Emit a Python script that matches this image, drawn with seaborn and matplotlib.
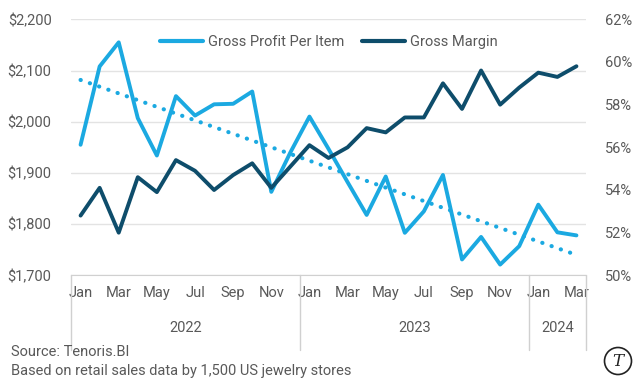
import numpy as np
import pandas as pd
import matplotlib
matplotlib.use("Agg")
import matplotlib.pyplot as plt
import matplotlib.transforms as mtransforms
from matplotlib.lines import Line2D
from matplotlib.patches import Circle
import seaborn as sns

sns.set_style("white")
plt.rcParams['font.family'] = ['Roboto', 'DejaVu Sans']

months = ["Jan", "Feb", "Mar", "Apr", "May", "Jun", "Jul", "Aug", "Sep", "Oct", "Nov", "Dec",
          "Jan", "Feb", "Mar", "Apr", "May", "Jun", "Jul", "Aug", "Sep", "Oct", "Nov", "Dec",
          "Jan", "Feb", "Mar"]
years = ["2022", "2023", "2024"]
year_counts = [12, 12, 3]
gross_profit = [1955, 2108, 2155, 2007, 1934, 2050, 2012, 2034, 2035, 2059, 1863, 1940,
                2010, 1947, 1882, 1818, 1893, 1783, 1825, 1896, 1731, 1775, 1721, 1757,
                1838, 1784, 1778]
gross_margin = [52.8, 54.1, 52.0, 54.6, 53.9, 55.4, 54.9, 54.0, 54.7, 55.25, 54.1, 55.1,
                56.1, 55.5, 56.0, 56.9, 56.7, 57.4, 57.4, 59.0, 57.8, 59.6, 58.0, 58.8,
                59.5, 59.3, 59.8]

df = pd.DataFrame({"idx": np.arange(len(months)), "month": months,
                   "profit": gross_profit, "margin": gross_margin})

LIGHT = "#1BA9E1"
DARK = "#0E4D6B"
GREY = "#595959"
GRID = "#E3E3E3"

fig = plt.figure(figsize=(6.4, 3.84), dpi=100)
ax = fig.add_axes([0.111, 0.283, 0.8046, 0.6667])
ax2 = ax.twinx()

sns.lineplot(data=df, x="idx", y="profit", ax=ax, color=LIGHT, lw=2.8, zorder=3)
sns.regplot(data=df, x="idx", y="profit", ax=ax, scatter=False, ci=None, truncate=True,
            line_kws=dict(color=LIGHT, lw=3, linestyle=(0, (0.05, 2.3)),
                          dash_capstyle="round", zorder=2))
sns.lineplot(data=df, x="idx", y="margin", ax=ax2, color=DARK, lw=2.8, zorder=3)

ax.set_xlim(-0.5, len(months) - 0.5)
ax.set_ylim(1700, 2200)
ax2.set_ylim(50, 62)
ax.set_yticks(np.arange(1700, 2201, 100))
ax.set_yticklabels([f"${v:,.0f}" for v in np.arange(1700, 2201, 100)])
ax2.set_yticks(np.arange(50, 63, 2))
ax2.set_yticklabels([f"{v:.0f}%" for v in np.arange(50, 63, 2)])

tick_idx = list(range(0, len(months), 2))
ax.set_xticks(tick_idx)
ax.set_xticklabels([months[i] for i in tick_idx])

ax.grid(axis="y", color=GRID, lw=1)
ax.set_axisbelow(True)
for a in (ax, ax2):
    a.set_xlabel("")
    a.set_ylabel("")
    for s in ["top", "right", "left"]:
        a.spines[s].set_visible(False)
    a.spines["bottom"].set_color("#D0D0D0")
    a.tick_params(length=0, labelsize=10.5, labelcolor=GREY)
ax2.spines["bottom"].set_visible(False)
ax.tick_params(axis="x", pad=8)
ax.tick_params(axis="y", pad=14)
ax2.tick_params(axis="y", pad=14)

# Year grouping
trans = mtransforms.blended_transform_factory(ax.transData, ax.transAxes)
bounds = np.concatenate([[0], np.cumsum(year_counts)]) - 0.5
for b in bounds:
    ax.add_line(Line2D([b, b], [0, -0.292], transform=trans, color="#D0D0D0", lw=1,
                       clip_on=False))
for i, y in enumerate(years):
    cx = (bounds[i] + bounds[i + 1]) / 2
    ax.text(cx, -0.204, y, transform=trans, ha="center", va="center",
            fontsize=10.5, color=GREY)

handles = [Line2D([], [], color=LIGHT, lw=3), Line2D([], [], color=DARK, lw=3)]
ax.legend(handles, ["Gross Profit Per Item", "Gross Margin"], loc="upper center",
          bbox_to_anchor=(0.5, 0.99), ncol=2, frameon=False, fontsize=10.5,
          labelcolor=GREY, handlelength=3.0, handletextpad=0.3, columnspacing=1.2)

fig.text(0.017, 0.083, "Source: Tenoris.BI", fontsize=10.5, color=GREY,
         ha="left", va="center")
fig.text(0.017, 0.034, "Based on retail sales data by 1,500 US jewelry stores",
         fontsize=10.5, color=GREY, ha="left", va="center")

# logo
logo = Circle((617 / 640, 1 - 361 / 384), 0.0, transform=fig.transFigure)
lax = fig.add_axes([603 / 640, 1 - 376 / 384, 30 / 640, 30 / 384])
lax.set_xlim(-1, 1)
lax.set_ylim(-1, 1)
lax.set_aspect("equal")
lax.axis("off")
lax.add_patch(Circle((0, 0), 0.9, fill=False, ec="#222222", lw=1.2))
lax.text(0, -0.05, "T", ha="center", va="center", fontsize=12, color="#222222",
         family="DejaVu Serif", style="italic")

fig.savefig("out.png", dpi=100)
